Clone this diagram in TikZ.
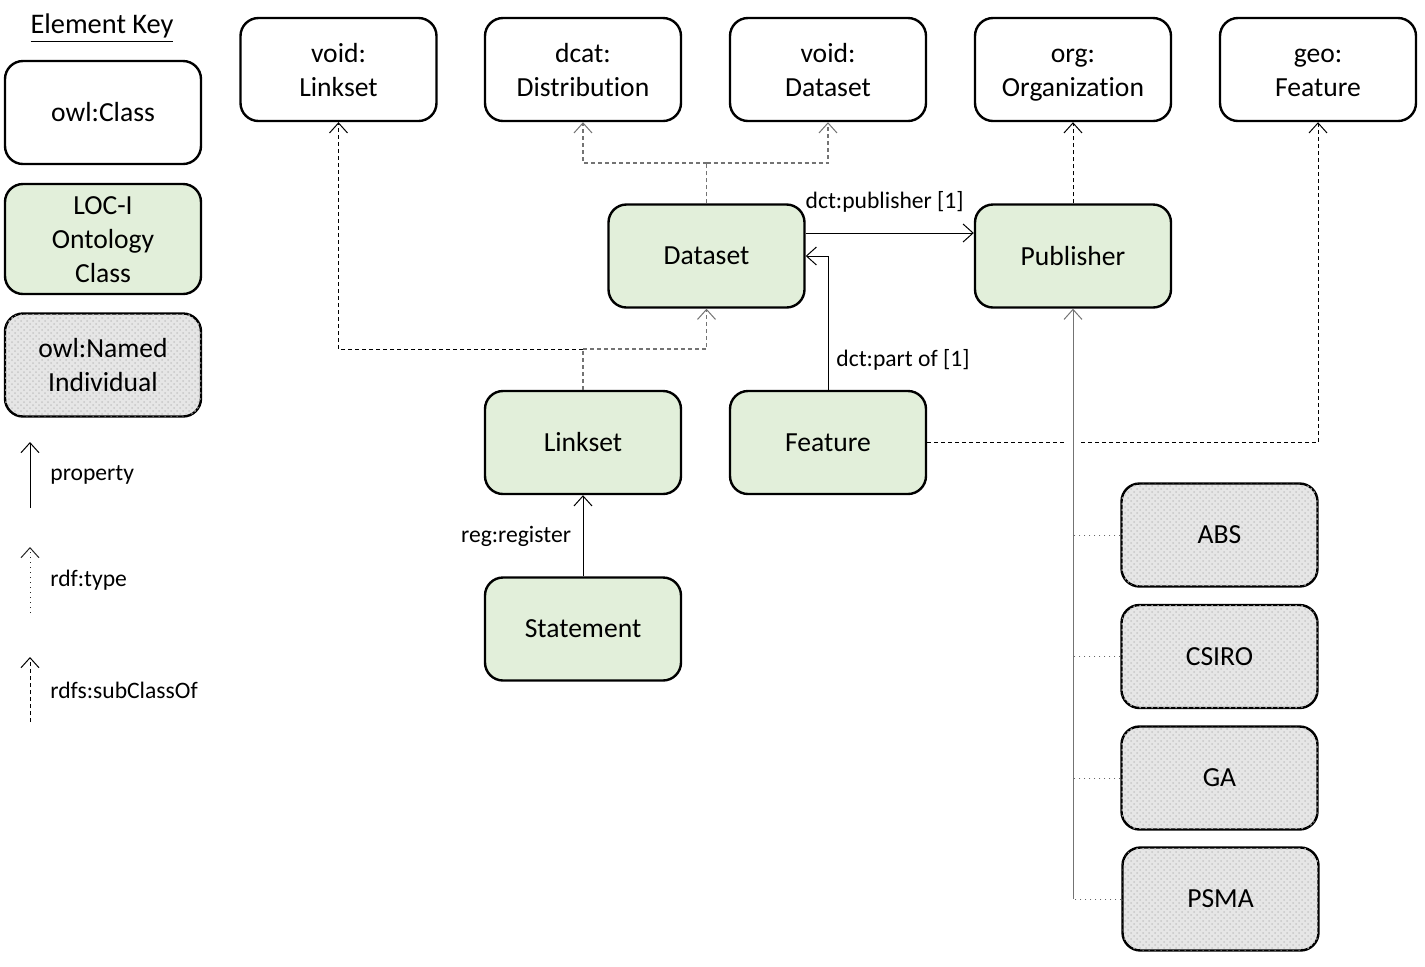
\documentclass[tikz,border=0pt]{standalone}
\usepackage{fontspec}
\setmainfont[Ligatures=NoCommon]{Carlito}
\usetikzlibrary{arrows.meta,patterns,calc}
\definecolor{locgreen}{HTML}{E2EFDA}
\definecolor{indgrey}{HTML}{E6E6E6}
\newcommand{\lnst}{\rule[-3.6pt]{0pt}{17pt}}
\begin{document}
\begin{tikzpicture}[x=0.5pt,y=-0.5pt,
  box/.style={draw=black,line width=1.2pt,rounded corners=9pt,minimum width=98pt,minimum height=51.5pt,align=center,inner sep=2pt,font=\fontsize{13.8}{17}\selectfont},
  cls/.style={box,fill=white},
  loc/.style={box,fill=locgreen},
  ind/.style={box,fill=indgrey,postaction={pattern=crosshatch dots,pattern color=black!22}},
  tip/.style={-{Straight Barb[length=5pt,width=9pt,line width=0.5pt]}},
  prop/.style={draw=black,line width=0.5pt},
  subc/.style={draw=black,line width=0.5pt,dash pattern=on 2pt off 1.5pt},
  subcg/.style={draw=black!55,line width=0.6pt,dash pattern=on 2pt off 1.5pt},
  rtype/.style={draw=black!60,line width=0.5pt,dotted},
  trunk/.style={draw=black!55,line width=0.5pt},
  lbl/.style={font=\fontsize{11.8}{14}\selectfont,inner sep=0pt},
  keylbl/.style={font=\fontsize{11.8}{14}\selectfont,inner sep=0pt,anchor=west}
]
\useasboundingbox (0,0) rectangle (1425,966);

% Legend
\node[font=\fontsize{14.2}{17}\selectfont,inner sep=0pt] (keyt) at (102,28) {\underline{Element Key}};
\node[cls] (kcls) at (103,112.5) {owl:Class};
\node[loc] (kloc) at (103,239) {\lnst LOC-I\\\lnst Ontology\\\lnst Class};
\node[ind] (kind) at (103,365) {\lnst owl:Named\\\lnst Individual};
\coordinate (kpa) at (30,508); \coordinate (kpb) at (30,442);
\coordinate (kta) at (30,613); \coordinate (ktb) at (30,547);
\coordinate (ksa) at (30,722); \coordinate (ksb) at (30,657);
\draw[prop,tip] (kpa) -- (kpb);
\draw[rtype,draw=black!85,tip] (kta) -- (ktb);
\draw[subc,tip] (ksa) -- (ksb);
\node[keylbl] (kpl) at (50,475) {property};
\node[keylbl] (ktl) at (50,580) {rdf:type};
\node[keylbl] (ksl) at (50,690) {rdfs:subClassOf};

% Top row classes
\node[cls] (vls) at (338.5,69.5) {\lnst void:\\\lnst Linkset};
\node[cls] (dist) at (583,69.5) {\lnst dcat:\\\lnst Distribution};
\node[cls] (vds) at (828,69.5) {\lnst void:\\\lnst Dataset};
\node[cls] (org) at (1073,69.5) {\lnst org:\\\lnst Organization};
\node[cls] (geo) at (1318,69.5) {\lnst geo:\\\lnst Feature};

% LOC-I classes
\node[loc] (ds) at (706.5,256) {Dataset};
\node[loc] (pub) at (1073,256) {Publisher};
\node[loc] (ls) at (583,442.5) {Linkset};
\node[loc] (feat) at (828,442.5) {Feature};
\node[loc] (st) at (583,629) {Statement};

% Individuals
\node[ind] (abs) at (1219.5,535) {ABS};
\node[ind] (csiro) at (1219.5,656.5) {CSIRO};
\node[ind] (ga) at (1219.5,778) {GA};
\node[ind] (psma) at (1220.5,899) {PSMA};

% Dataset subclass links
\coordinate (dsj) at (706.5,163);
\draw[subcg] (ds.north) -- (dsj);
\draw[subcg,tip] (dsj) -| (dist.south);
\draw[subcg,tip] (dsj) -| (vds.south);

% Linkset subclass links
\coordinate (lsj) at (583,349);
\draw[subcg] (ls.north) -- (lsj);
\draw[subc,tip] (lsj) -| (vls.south);
\draw[subcg,tip] (lsj) -| (ds.south);

% Publisher -> org:Organization
\draw[subc,tip] (pub.north) -- (org.south);

% Feature -> geo:Feature (with hop gap)
\coordinate (gapl) at (1064,442.5);
\coordinate (gapr) at (1081,442.5);
\draw[subc] (feat.east) -- (gapl);
\draw[subc,tip] (gapr) -| (geo.south);

% properties
\draw[prop,tip] ([yshift=11.5pt]ds.east) -- ([yshift=11.5pt]pub.west)
  node[lbl,pos=0.47,above=10pt] (publbl) {dct:publisher [1]};
\draw[prop,tip] (feat.north) |- (ds.east);
\node[lbl] (partlbl) at (903,360) {dct:part of [1]};
\draw[prop,tip] (st.north) -- (ls.south);
\node[lbl] (reglbl) at (516,536) {reg:register};

% rdf:type trunk
\coordinate (tabs) at (1073,535);
\coordinate (tcsiro) at (1073,656.5);
\coordinate (tga) at (1073,778);
\coordinate (tpsma) at (1073,899);
\draw[rtype] (abs.west) -- (tabs);
\draw[rtype] (csiro.west) -- (tcsiro);
\draw[rtype] (ga.west) -- (tga);
\draw[rtype] (psma.west) -- (tpsma);
\draw[trunk,tip] (tpsma) -- (pub.south);
\end{tikzpicture}
\end{document}
